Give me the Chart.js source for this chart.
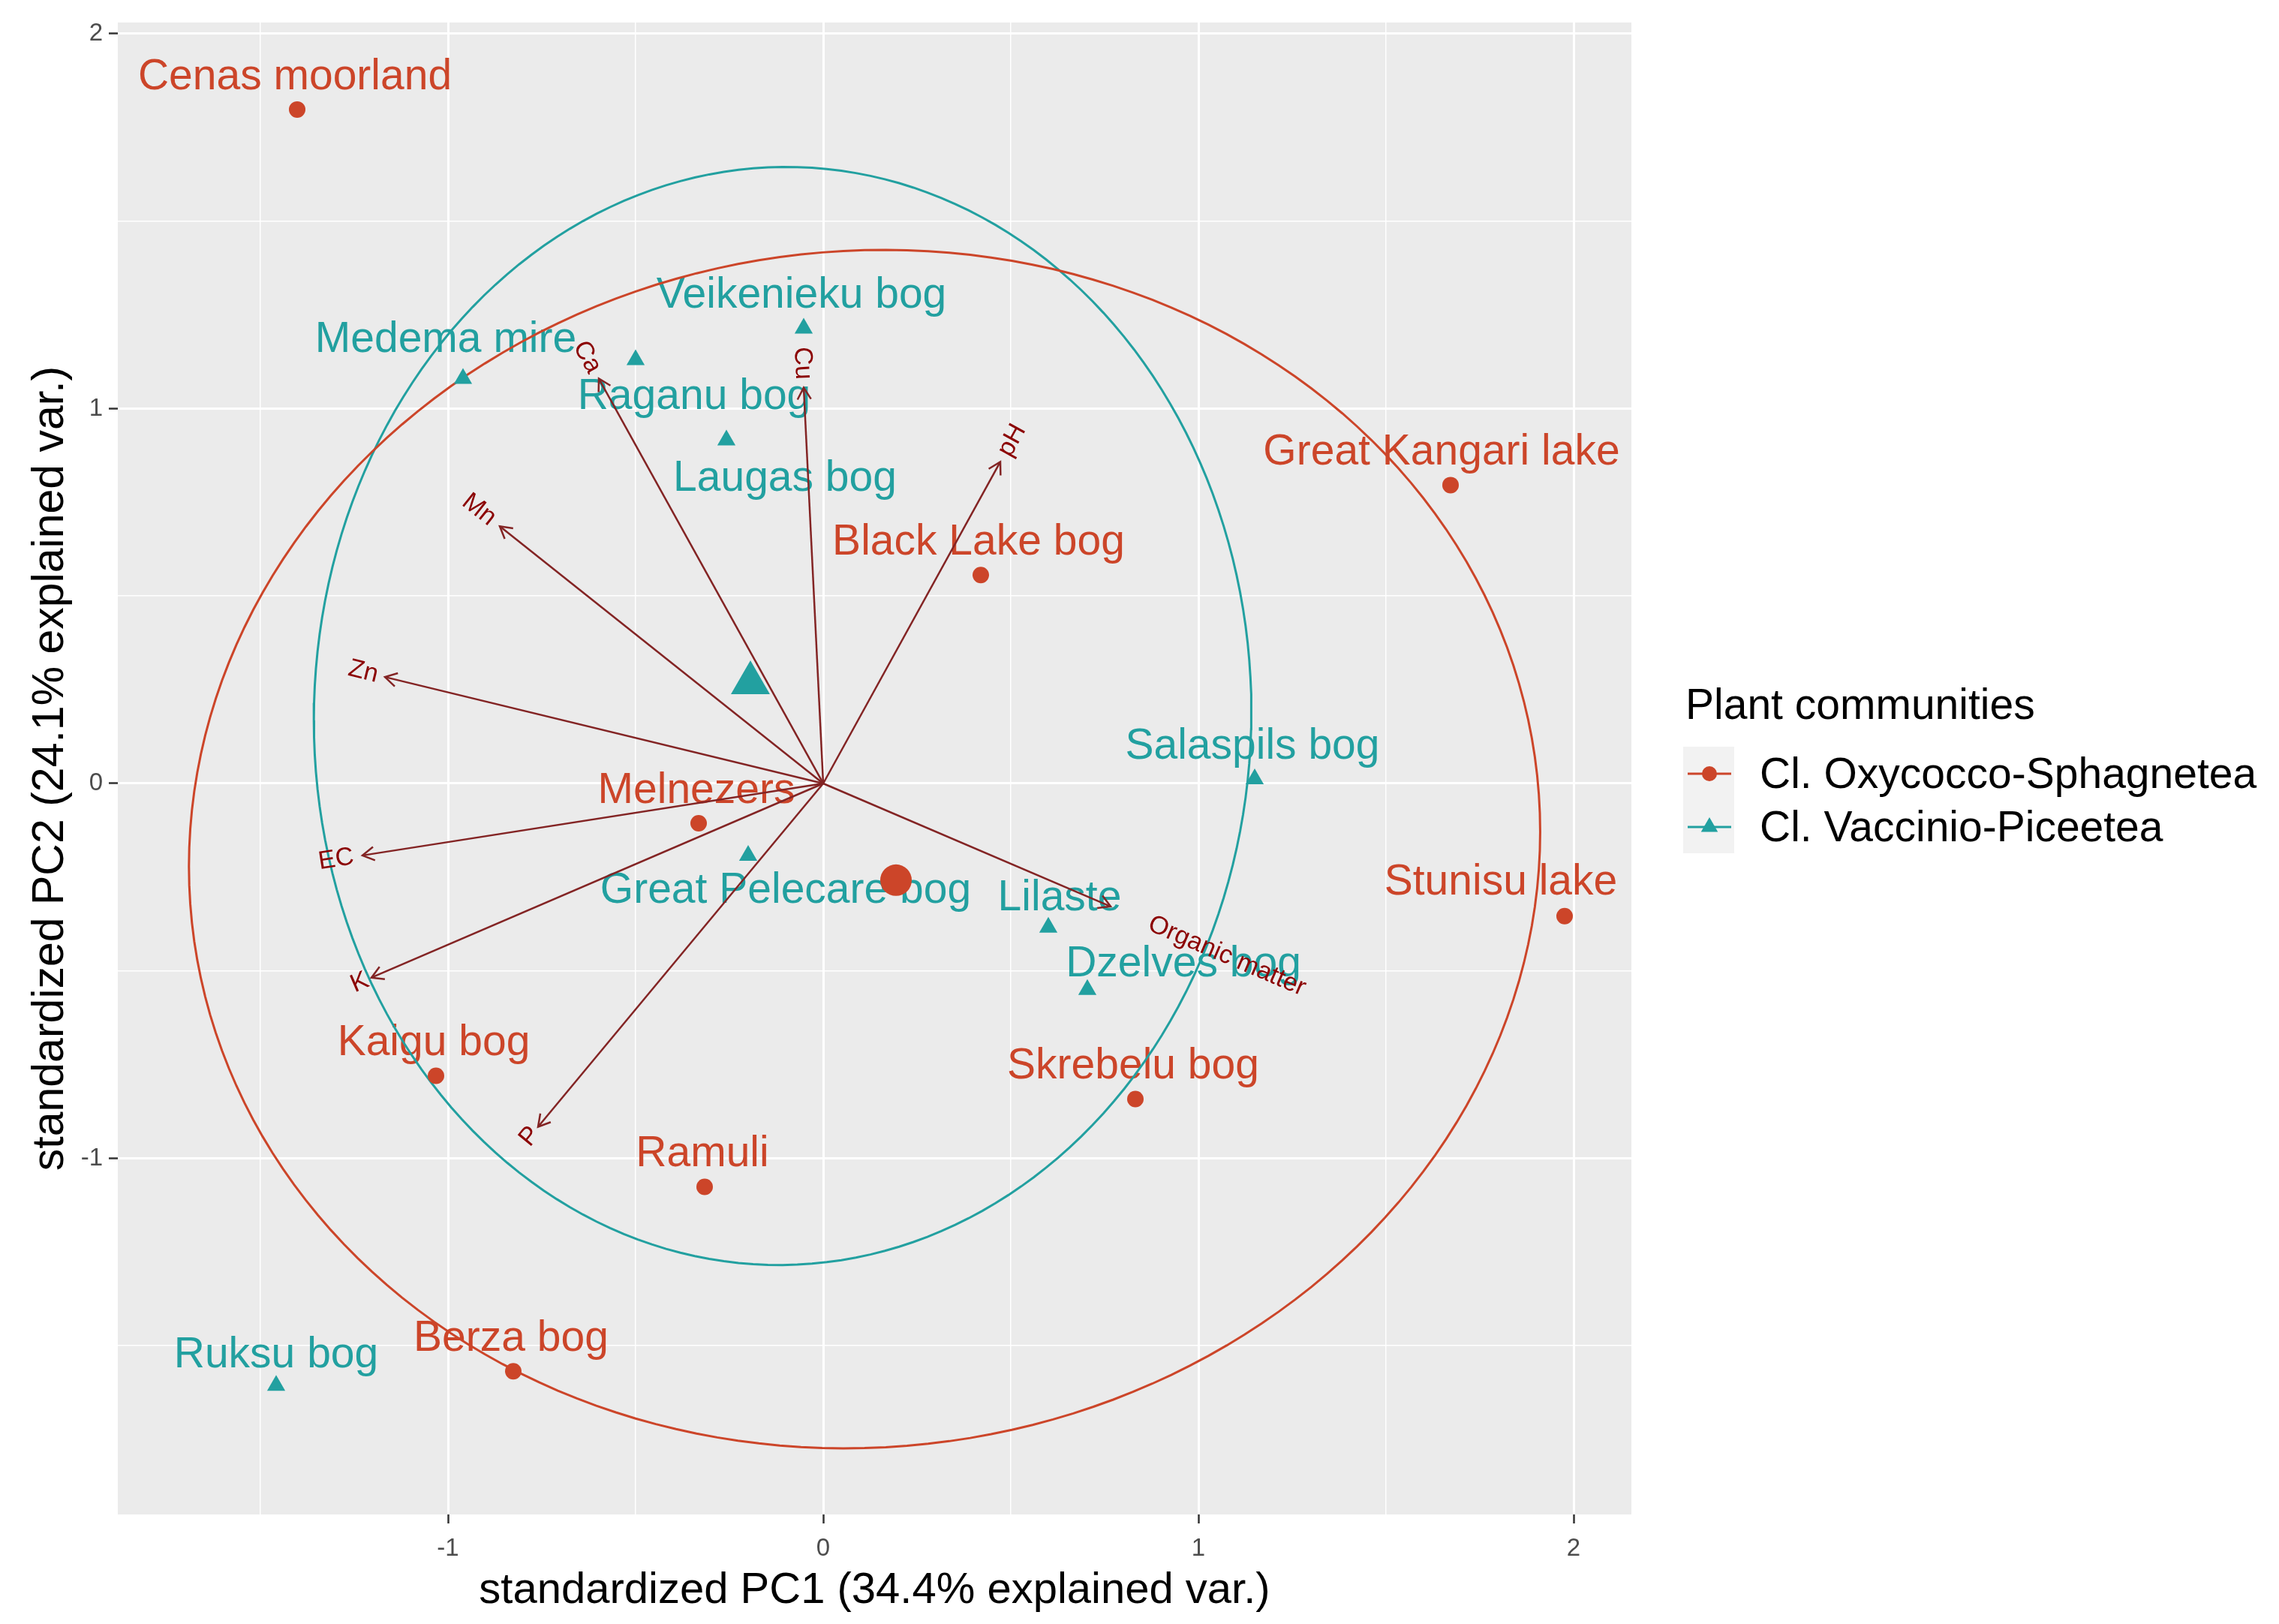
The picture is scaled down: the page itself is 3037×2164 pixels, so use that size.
<!DOCTYPE html>
<html>
<head>
<meta charset="utf-8">
<title>PCA biplot</title>
<script src="https://cdn.jsdelivr.net/npm/chart.js@4.4.1/dist/chart.umd.min.js"></script>
<style>
  html, body { margin: 0; padding: 0; background: #ffffff; }
  #wrap { width: 3037px; height: 2164px; }
</style>
</head>
<body>
<div id="wrap"><canvas id="biplot"></canvas></div>
<script>
const groupNames = ['Cl. Oxycocco-Sphagnetea', 'Cl. Vaccinio-Piceetea'];

const oxySites = ['Cenas moorland', 'Great Kangari lake', 'Black Lake bog', 'Melnezers', 'Stunisu lake',
    'Kaigu bog', 'Skrebelu bog', 'Ramuli', 'Berza bog'];
const oxyPC1 = [-1.402, 1.672, 0.420, -0.332, 1.976, -1.032, 0.832, -0.316, -0.826];
const oxyPC2 = [1.798, 0.796, 0.556, -0.106, -0.354, -0.780, -0.842, -1.076, -1.568];

const vacSites = ['Medema mire', 'Raganu bog', 'Laugas bog', 'Veikenieku bog', 'Salaspils bog',
    'Great Pelecare bog', 'Lilaste', 'Dzelves bog', 'Ruksu bog'];
const vacPC1 = [-0.960, -0.500, -0.258, -0.052, 1.150, -0.200, 0.600, 0.704, -1.458];
const vacPC2 = [1.080, 1.130, 0.916, 1.214, 0.012, -0.192, -0.384, -0.550, -1.606];

// group centres (big symbols)
const centrePC1 = [0.194, -0.194];
const centrePC2 = [-0.258, 0.268];

const variables = ['Ca', 'Cu', 'pH', 'Mn', 'Zn', 'EC', 'K', 'P', 'Organic matter'];
const loadPC1 = [-0.598, -0.052, 0.472, -0.862, -1.168, -1.228, -1.204, -0.760, 0.766];
const loadPC2 = [1.080, 1.056, 0.858, 0.686, 0.284, -0.192, -0.518, -0.916, -0.328];

const xTicks = [-1, 0, 1, 2];
const yTicks = [-1, 0, 1, 2];

const RED = '#cc4529';
const TEAL = '#22a0a0';
const FONT = '"Liberation Sans", Arial, sans-serif';

// label nudges in pixels (text centre relative to its point)
const labelShift = {
    'Great Kangari lake': [-12, -43],
    'Stunisu lake': [-85, -45],
    'Medema mire': [-23, -51],
    'Raganu bog': [78, 50],
    'Laugas bog': [78, 52],
    'Great Pelecare bog': [50, 47],
    'Lilaste': [15, -39],
    'Dzelves bog': [128, -33],
    'Ruksu bog': [0, -40]
};

const toPoints = (xs, ys) => xs.map((x, i) => ({ x, y: ys[i] }));

// normal data ellipse, same recipe as ggbiplot (prob 0.68)
function dataEllipse(xs, ys, prob) {
    const n = xs.length;
    const mx = xs.reduce((a, b) => a + b, 0) / n;
    const my = ys.reduce((a, b) => a + b, 0) / n;
    let sxx = 0, syy = 0, sxy = 0;
    for (let i = 0; i < n; i++) {
        sxx += (xs[i] - mx) ** 2;
        syy += (ys[i] - my) ** 2;
        sxy += (xs[i] - mx) * (ys[i] - my);
    }
    sxx /= n - 1; syy /= n - 1; sxy /= n - 1;
    const ed = Math.sqrt(-2 * Math.log(1 - prob));
    const r11 = Math.sqrt(sxx), r12 = sxy / r11, r22 = Math.sqrt(syy - r12 * r12);
    const out = [];
    for (let i = 0; i <= 200; i++) {
        const t = -Math.PI + 2 * Math.PI * i / 200;
        const c = Math.cos(t), s = Math.sin(t);
        out.push({ x: mx + ed * c * r11, y: my + ed * (c * r12 + s * r22) });
    }
    return out;
}

const minorX = xTicks.map(t => t - 0.5);
const minorY = yTicks.map(t => t - 0.5);

const arrowSets = variables.map((v, i) => ({
    label: v,
    data: [{ x: 0, y: 0 }, { x: loadPC1[i], y: loadPC2[i] }],
    showLine: true,
    borderColor: '#832424',
    borderWidth: 2.5,
    pointRadius: 0,
    order: 3
}));

const biplotExtras = {
    id: 'biplotExtras',
    beforeDraw(chart) {
        const { ctx, chartArea: a } = chart;
        ctx.save();
        ctx.fillStyle = '#ebebeb';
        ctx.fillRect(a.left, a.top, a.right - a.left, a.bottom - a.top);
        ctx.restore();
    },
    beforeDatasetsDraw(chart) {
        const { ctx, scales: { x, y } } = chart;
        ctx.save();
        ctx.font = `57px ${FONT}`;
        ctx.textAlign = 'center';
        ctx.textBaseline = 'middle';
        const put = (names, xs, ys, colour) => {
            names.forEach((name, i) => {
                const [dx, dy] = labelShift[name] || [-3, -43];
                ctx.fillStyle = colour;
                ctx.fillText(name, x.getPixelForValue(xs[i]) + dx, y.getPixelForValue(ys[i]) + dy);
            });
        };
        put(oxySites, oxyPC1, oxyPC2, RED);
        put(vacSites, vacPC1, vacPC2, TEAL);
        ctx.restore();
    },
    afterDatasetsDraw(chart) {
        const { ctx, scales: { x, y } } = chart;
        const ox = x.getPixelForValue(0), oy = y.getPixelForValue(0);
        ctx.save();
        ctx.strokeStyle = '#832424';
        ctx.lineWidth = 2.5;
        variables.forEach((v, i) => {
            const px = x.getPixelForValue(loadPC1[i]);
            const py = y.getPixelForValue(loadPC2[i]);
            const a = Math.atan2(py - oy, px - ox);
            const len = 18, spread = Math.PI / 6;
            ctx.beginPath();
            ctx.moveTo(px - len * Math.cos(a - spread), py - len * Math.sin(a - spread));
            ctx.lineTo(px, py);
            ctx.lineTo(px - len * Math.cos(a + spread), py - len * Math.sin(a + spread));
            ctx.stroke();
        });
        ctx.font = `34px ${FONT}`;
        ctx.fillStyle = '#8b0000';
        ctx.textAlign = 'left';
        ctx.textBaseline = 'middle';
        variables.forEach((v, i) => {
            const px = x.getPixelForValue(loadPC1[i]);
            const py = y.getPixelForValue(loadPC2[i]);
            const ang = Math.atan(loadPC2[i] / loadPC1[i]);
            const hjust = (1 - 1.5 * Math.sign(loadPC1[i])) / 2;
            const w = ctx.measureText(v).width;
            ctx.save();
            ctx.translate(px, py);
            ctx.rotate(-ang);
            ctx.fillText(v, -hjust * w, 0);
            ctx.restore();
        });
        ctx.restore();
    },
    afterDraw(chart) {
        const { ctx } = chart;
        ctx.save();
        ctx.fillStyle = '#000000';
        ctx.font = `57px ${FONT}`;
        ctx.textAlign = 'left';
        ctx.textBaseline = 'middle';
        ctx.fillText('Plant communities', 2246, 942);
        const colours = [RED, TEAL];
        groupNames.forEach((g, i) => {
            const top = 995 + i * 71;
            const cy = top + 36;
            ctx.fillStyle = '#f2f2f2';
            ctx.fillRect(2243, top, 68, 71);
            ctx.strokeStyle = colours[i];
            ctx.lineWidth = 3;
            ctx.beginPath();
            ctx.moveTo(2249, cy);
            ctx.lineTo(2307, cy);
            ctx.stroke();
            ctx.fillStyle = colours[i];
            ctx.beginPath();
            if (i === 0) {
                ctx.arc(2278, cy, 10, 0, 2 * Math.PI);
            } else {
                const r = 13;
                ctx.moveTo(2278, cy - r);
                ctx.lineTo(2278 + r * 0.866, cy + r * 0.5);
                ctx.lineTo(2278 - r * 0.866, cy + r * 0.5);
                ctx.closePath();
            }
            ctx.fill();
            ctx.fillStyle = '#000000';
            ctx.fillText(g, 2345, cy + 3);
        });
        ctx.restore();
    }
};

const gridOpts = (majors) => ({
    color: '#ffffff',
    lineWidth: c => majors.includes(c.tick.value) ? 3 : 1.5,
    tickColor: c => majors.includes(c.tick.value) ? '#333333' : 'rgba(0,0,0,0)',
    tickLength: 12,
    tickWidth: 2.5
});

const ctx = document.getElementById('biplot').getContext('2d');
new Chart(ctx, {
    type: 'scatter',
    data: {
        datasets: [
            {
                label: groupNames[0],
                data: toPoints(oxyPC1, oxyPC2),
                pointStyle: 'circle',
                pointRadius: 11,
                backgroundColor: RED,
                borderWidth: 0,
                order: 0
            },
            {
                label: groupNames[1],
                data: toPoints(vacPC1, vacPC2),
                pointStyle: 'triangle',
                pointRadius: 14,
                backgroundColor: TEAL,
                borderWidth: 0,
                order: 0
            },
            {
                label: 'centres',
                data: toPoints(centrePC1, centrePC2),
                pointStyle: ['circle', 'triangle'],
                pointRadius: [21, 30],
                backgroundColor: [RED, TEAL],
                borderWidth: 0,
                order: 1
            },
            {
                label: 'ellipse ' + groupNames[0],
                data: dataEllipse(oxyPC1, oxyPC2, 0.68),
                showLine: true,
                borderColor: RED,
                borderWidth: 3,
                pointRadius: 0,
                order: 2
            },
            {
                label: 'ellipse ' + groupNames[1],
                data: dataEllipse(vacPC1, vacPC2, 0.68),
                showLine: true,
                borderColor: TEAL,
                borderWidth: 3,
                pointRadius: 0,
                order: 2
            },
            ...arrowSets
        ]
    },
    options: {
        responsive: true,
        maintainAspectRatio: false,
        devicePixelRatio: 1,
        animation: false,
        events: [],
        layout: { padding: { top: 27, right: 863, left: 0, bottom: 0 } },
        plugins: {
            legend: { display: false },
            tooltip: { enabled: false }
        },
        scales: {
            x: {
                type: 'linear',
                min: -1.88,
                max: 2.154,
                border: { display: false },
                grid: gridOpts(xTicks),
                afterBuildTicks: s => { s.ticks = [...minorX, ...xTicks].sort((a, b) => a - b).map(v => ({ value: v })); },
                afterFit: s => { s.height = 146; },
                ticks: {
                    autoSkip: false,
                    maxRotation: 0,
                    padding: 14,
                    color: '#4d4d4d',
                    font: { family: FONT, size: 33 },
                    callback: v => xTicks.includes(v) ? String(v) : ''
                },
                title: {
                    display: true,
                    text: 'standardized PC1 (34.4% explained var.)',
                    color: '#000000',
                    font: { family: FONT, size: 58 },
                    padding: { top: 0, bottom: 9 }
                }
            },
            y: {
                type: 'linear',
                min: -1.95,
                max: 2.03,
                border: { display: false },
                grid: gridOpts(yTicks),
                afterBuildTicks: s => { s.ticks = [...minorY, ...yTicks].sort((a, b) => a - b).map(v => ({ value: v })); },
                afterFit: s => { s.width = 157; },
                ticks: {
                    autoSkip: false,
                    padding: 8,
                    color: '#4d4d4d',
                    font: { family: FONT, size: 33 },
                    callback: v => yTicks.includes(v) ? String(v) : ''
                },
                title: {
                    display: true,
                    text: 'standardized PC2 (24.1% explained var.)',
                    color: '#000000',
                    font: { family: FONT, size: 59 },
                    padding: { top: 32, bottom: 0 }
                }
            }
        }
    },
    plugins: [biplotExtras]
});
</script>
</body>
</html>
